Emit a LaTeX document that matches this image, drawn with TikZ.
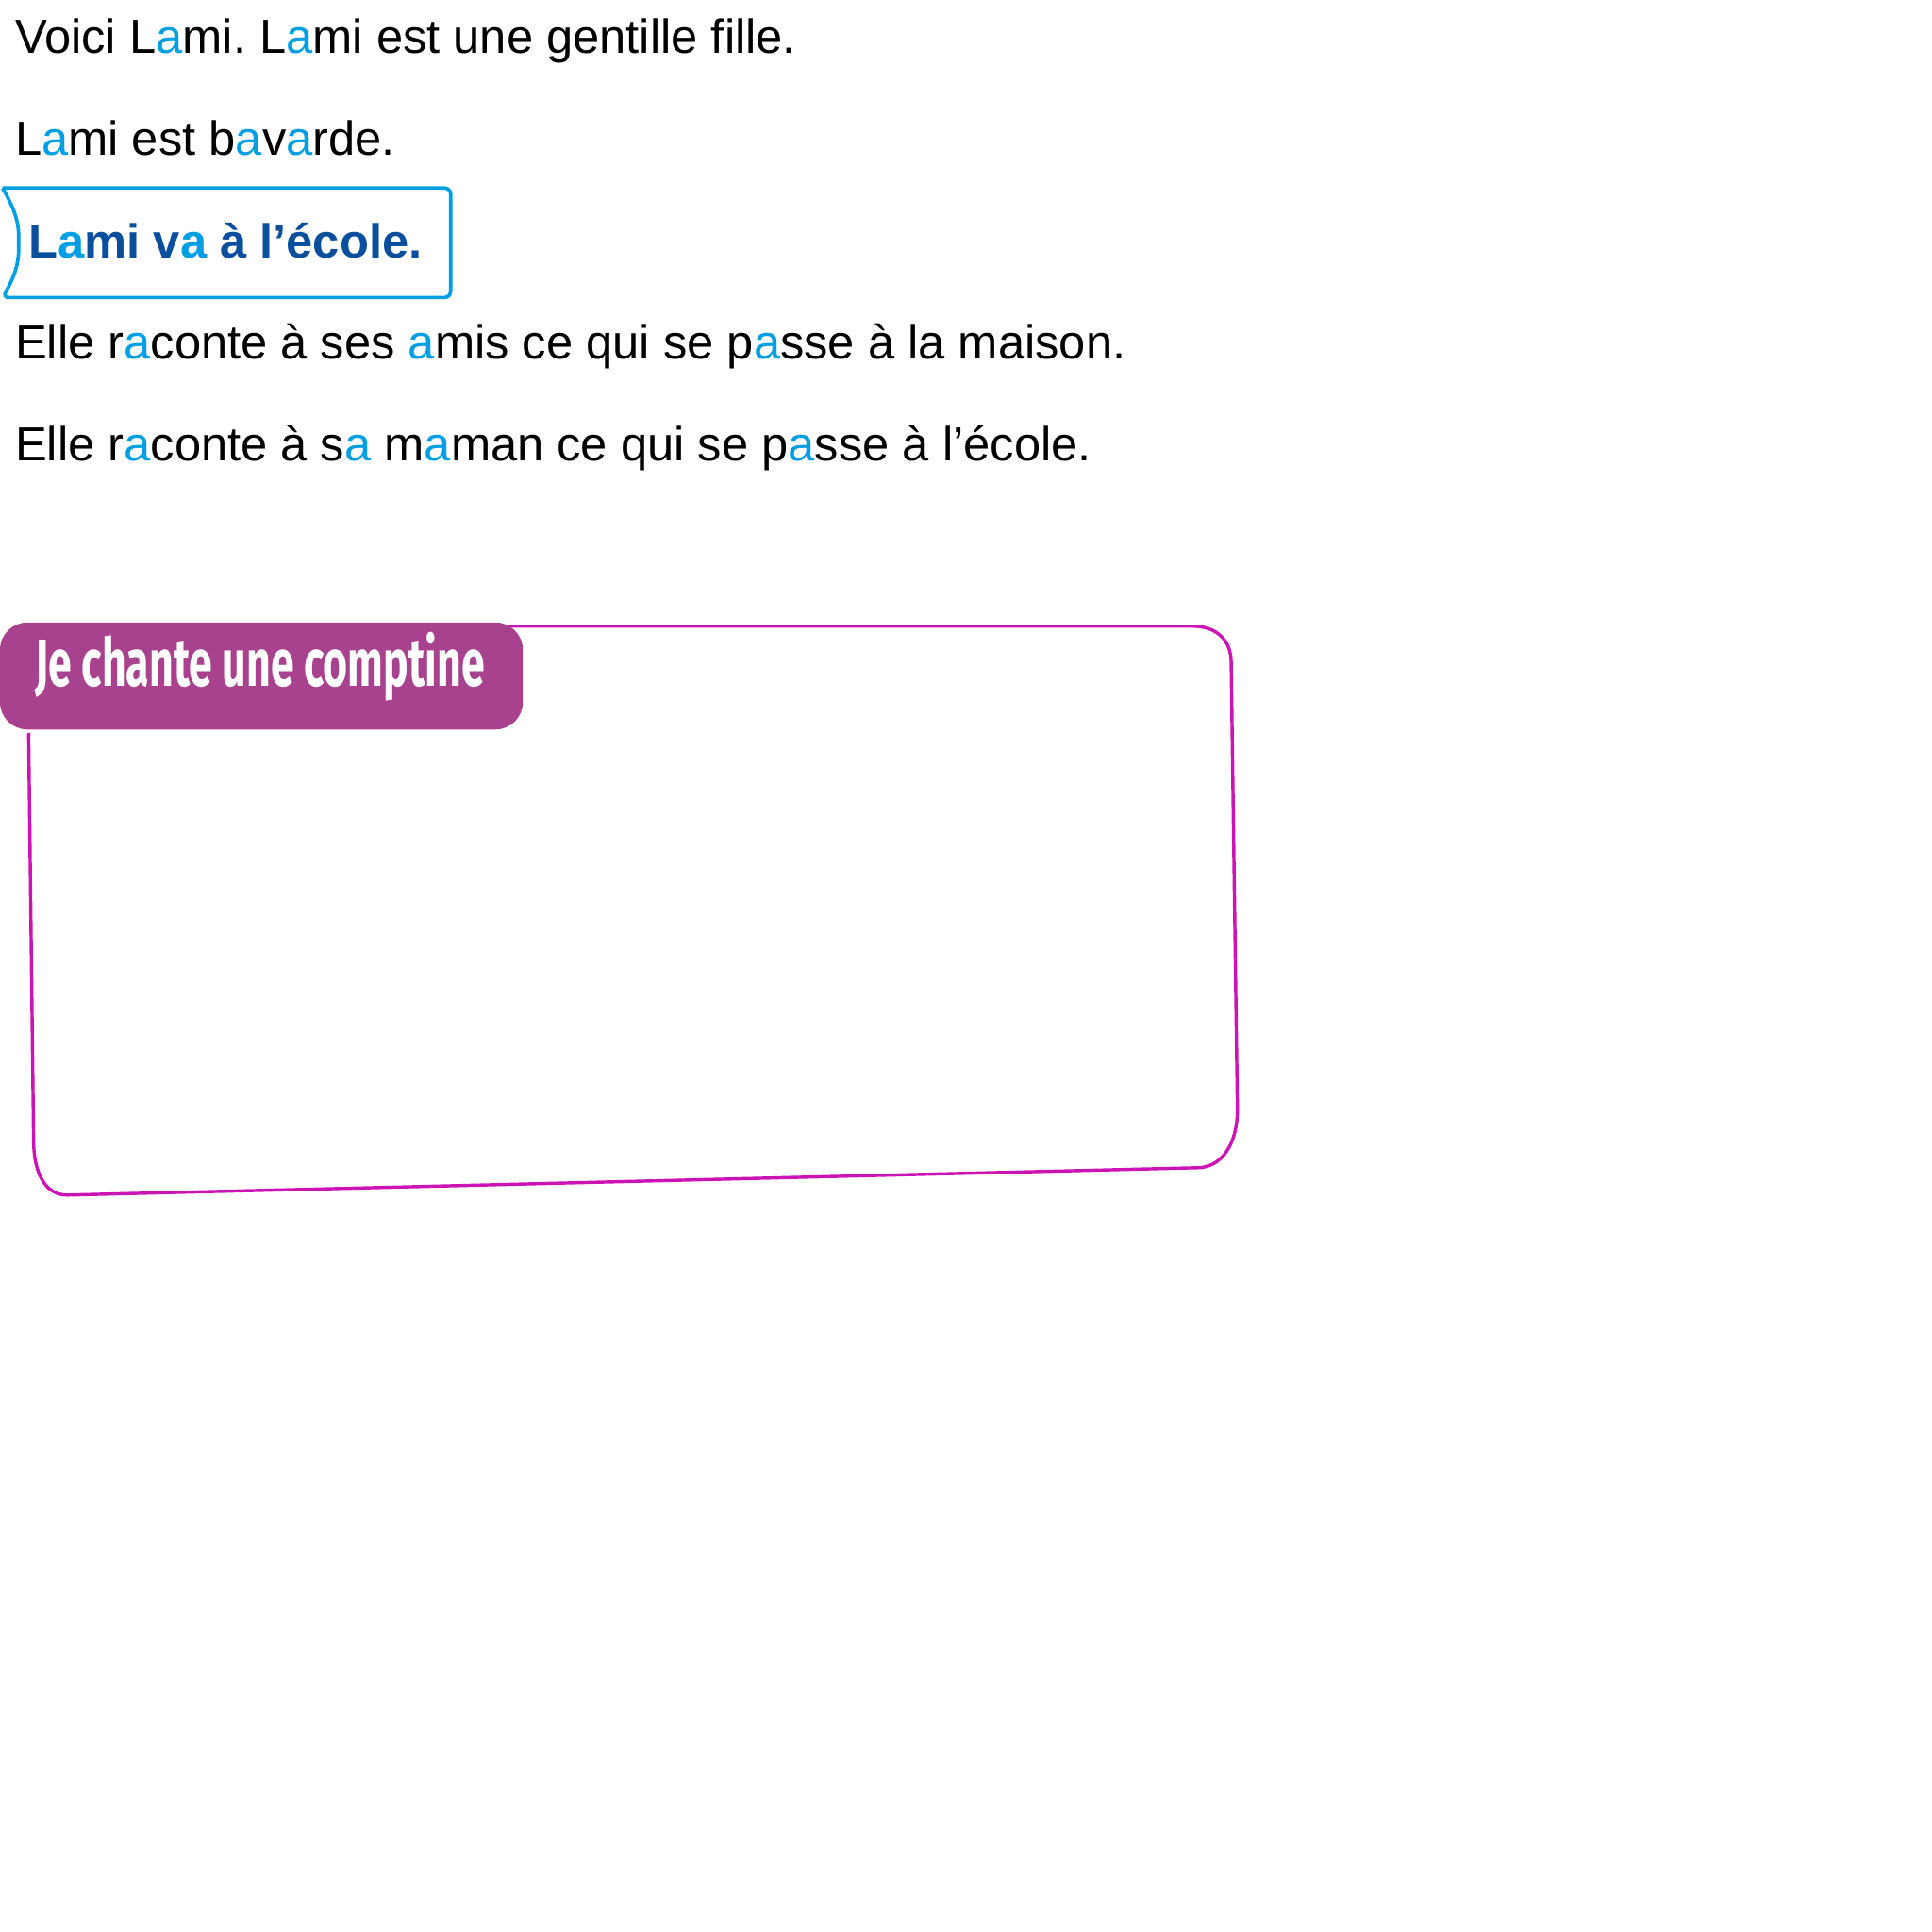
\documentclass[tikz,border=0pt]{standalone}
\usepackage{fontspec}
\setmainfont{Liberation Sans}
\newfontfamily\tabfont{Fira Sans}
\definecolor{lamicyan}{HTML}{009FE3}
\definecolor{lamidark}{HTML}{0A4E9E}
\definecolor{comptinerose}{HTML}{CC14B4}
\definecolor{comptinefill}{HTML}{A8418E}
\newcommand{\ca}{\textcolor{lamicyan}{a}}
\frenchspacing
\tikzset{
  phrase/.style={anchor=base west, inner sep=0pt, font=\fontsize{38.4}{46}\selectfont},
  titre/.style={phrase, font=\fontsize{38.4}{46}\selectfont\bfseries, text=lamidark},
  cadre/.style={draw=lamicyan, line width=2.8pt, rounded corners=5pt},
  contour/.style={draw=comptinerose, line width=2.6pt},
  onglet/.style={fill=comptinefill, rounded corners=22pt},
}
\begin{document}
\begin{tikzpicture}[x=1pt,y=-1pt]
    \useasboundingbox (0,0) rectangle (1552,1552);
      \node[phrase] (l1) at (12,42.5) {Voici L\ca mi. L\ca mi est une gentille fille.};
      \node[phrase] (l2) at (12,124.7) {L\ca mi est b\ca v\ca rde.};

      \draw[cadre] (2,151) -- (362,151) -- (362,239) -- (2,239) to[out=60,in=-90] (15,195) to[out=90,in=-60] (2,151);
      \node[titre] (l3) at (23,207) {L\ca mi v\ca{} à l’école.};

      \node[phrase] (l4) at (12,288) {Elle r\ca conte à ses \ca mis ce qui se p\ca sse à la maison.};
      \node[phrase] (l5) at (12,370) {Elle r\ca conte à s\ca{} m\ca man ce qui se p\ca sse à l’école.};

      \draw[contour] (403,503) -- (958,503) .. controls (978,503) and (989,515) .. (989,532) -- (994,891) .. controls (994,921) and (980,938) .. (962,938) -- (54,960) .. controls (35,960) and (27,940) .. (27,916) -- (23,589);
      \fill[onglet] (0,500) rectangle (420,586);
      \node[anchor=base west, inner sep=0pt, text=white] (c) at (28,551) {\resizebox{361pt}{43.5pt}{\tabfont\bfseries Je chante une comptine}};
    \end{tikzpicture}
\end{document}
